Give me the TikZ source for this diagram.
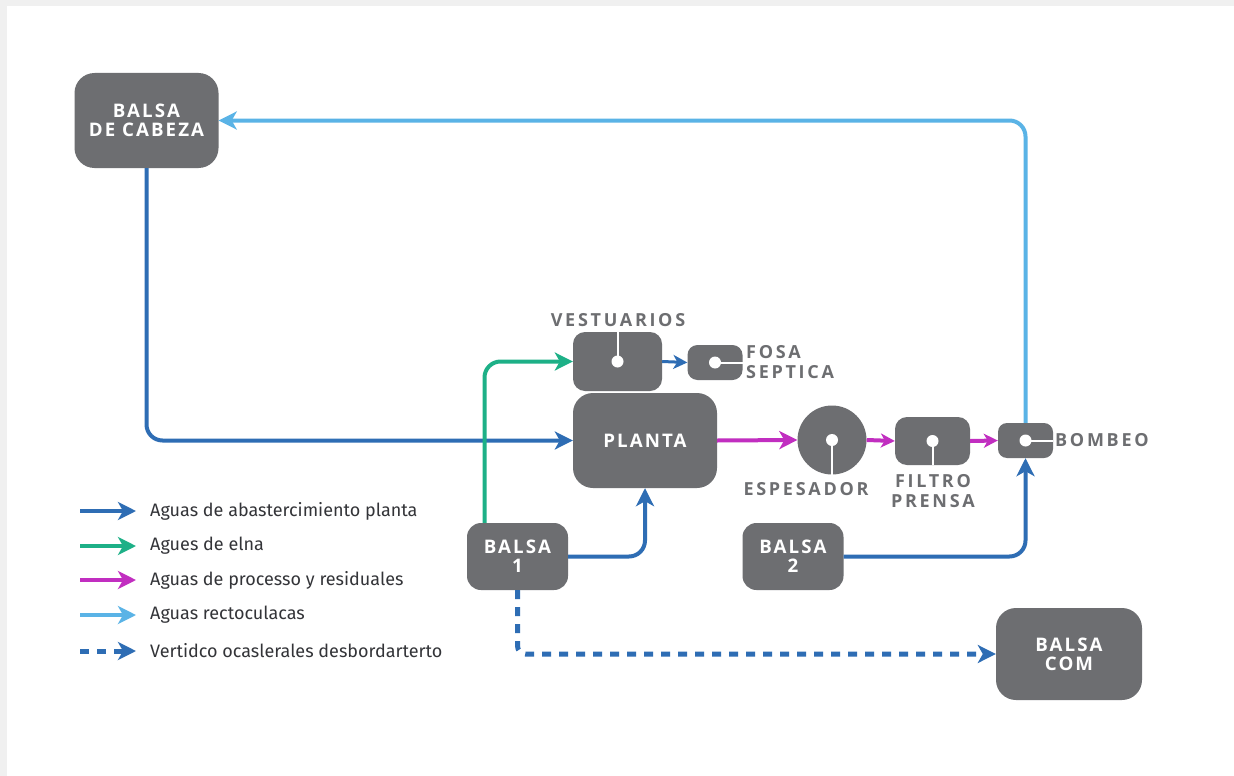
\documentclass[tikz,border=0pt]{standalone}
\usepackage{fontspec}
\setmainfont{Fira Sans}
\newfontfamily\boxfont[LetterSpace=11]{Open Sans}
\newfontfamily\tagfont[LetterSpace=15]{Open Sans}
\usetikzlibrary{arrows.meta}
\usetikzlibrary{calc}

\definecolor{tankgray}{HTML}{6D6E71}
\definecolor{bggray}{HTML}{F0F0F0}
\definecolor{legtext}{HTML}{333438}
\definecolor{supplyblue}{HTML}{2E6DB4}
\definecolor{edgegreen}{HTML}{1DB087}
\definecolor{processmag}{HTML}{C12EC0}
\definecolor{recycblue}{HTML}{5AB3E6}

\tikzset{
  tank/.style={fill=tankgray,text=white,align=center,inner sep=0pt,
    font=\boxfont\bfseries\fontsize{18.7}{19}\selectfont},
  tag/.style={text=tankgray,inner sep=0pt,
    font=\tagfont\bfseries\fontsize{18}{19.5}\selectfont},
  bigtip/.style={-{Stealth[length=18pt,width=18pt,inset=5pt]}},
  smalltip/.style={-{Stealth[length=14pt,width=14pt,inset=4pt]}},
  supplyline/.style={draw=supplyblue,line width=4pt,rounded corners=16pt,bigtip},
  greenline/.style={draw=edgegreen,line width=4pt,rounded corners=16pt,bigtip},
  processline/.style={draw=processmag,line width=4pt,bigtip},
  recycline/.style={draw=recycblue,line width=4pt,rounded corners=16pt,bigtip},
  spillline/.style={draw=supplyblue,line width=5pt,rounded corners=8pt,
    dash pattern=on 9pt off 8pt,bigtip},
  slit/.style={draw=white,line width=2pt},
  legtag/.style={anchor=west,text=legtext,inner sep=0pt,
    font=\fontsize{18}{18}\selectfont}
}

\begin{document}
\begin{tikzpicture}[x=1pt,y=-1pt]
\fill[bggray] (0,0) rectangle (1234,776);
\fill[white] (7,6) rectangle (1234,776);
\useasboundingbox (0,0) rectangle (1234,776);

% tanks
\node[tank,minimum width=144,minimum height=95,rounded corners=20] (cabeza) at (146.5,120.5) {BALSA\\DE CABEZA};
\node[tank,minimum width=89,minimum height=59,rounded corners=12] (vest) at (617.5,361.5) {};
\node[tank,minimum width=55,minimum height=35,rounded corners=10] (fosa) at (715,362.5) {};
\node[tank,minimum width=144,minimum height=95,rounded corners=20] (planta) at (645,440.5) {PLANTA};
\node[tank,circle,minimum size=69] (espesador) at (832,440) {};
\node[tank,minimum width=75,minimum height=48,rounded corners=12] (filtro) at (932.5,441) {};
\node[tank,minimum width=55,minimum height=35,rounded corners=9] (bombeo) at (1025.5,440.5) {};
\node[tank,minimum width=101,minimum height=67,rounded corners=14] (balsa1) at (517.5,556.5) {BALSA\\1};
\node[tank,minimum width=101,minimum height=67,rounded corners=14] (balsa2) at (793,556.5) {BALSA\\2};
\node[tank,minimum width=146,minimum height=92,rounded corners=20] (balsacom) at (1069,654) {BALSA\\COM};

% labels
\node[tag] (vestlabel) at (618,320) {VESTUARIOS};
\node[tag,anchor=west,align=left] (fosalabel) at (746,362) {FOSA\\SEPTICA};
\node[tag] (esplabel) at (806,489) {ESPESADOR};
\node[tag,align=center] (filtrolabel) at (933,491) {FILTRO\\PRENSA};
\node[tag,anchor=west] (bombeolabel) at (1055,440) {BOMBEO};

% slits and dots
\draw[slit] (vest.center) -- (vest.north);
\draw[slit] (fosa.center) -- (fosa.east);
\draw[slit] (espesador.center) -- (espesador.south);
\draw[slit] (filtro.center) -- (filtro.south);
\draw[slit] (bombeo.center) -- (bombeo.east);
\foreach \n in {vest,fosa,espesador,filtro,bombeo}
  \fill[white] (\n.center) circle (6);

% flows
\draw[recycline] (bombeo.north) |- (cabeza.east);
\draw[supplyline] (cabeza.south) |- (planta.west);
\draw[greenline] ([xshift=-33]balsa1.north) |- (vest.west);
\draw[supplyline] (balsa1.east) -| (planta.south);
\draw[spillline] (balsa1.south) |- (balsacom.west);
\draw[supplyline] (balsa2.east) -| (bombeo.south);
\draw[supplyline,line width=3pt,smalltip] (vest.east) -- (fosa.west);
\draw[processline] (planta.east) -- (espesador.west);
\draw[processline,smalltip] (espesador.east) -- (filtro.west);
\draw[processline,smalltip] (filtro.east) -- (bombeo.west);

% legend
\foreach \i/\y/\s/\t in {1/511/supplyline/Aguas de abastercimiento planta,
    2/546/greenline/Agues de elna,
    3/580/processline/Aguas de processo y residuales,
    4/615/recycline/Aguas rectoculacas,
    5/651/spillline/Vertidco ocaslerales desbordarterto}{
  \node[legtag] (leg\i) at (150,\y) {\t};
  \coordinate (key\i) at (80,\y);
  \draw[\s] (key\i) -- ([xshift=-14]leg\i.west);
}
\end{tikzpicture}
\end{document}
